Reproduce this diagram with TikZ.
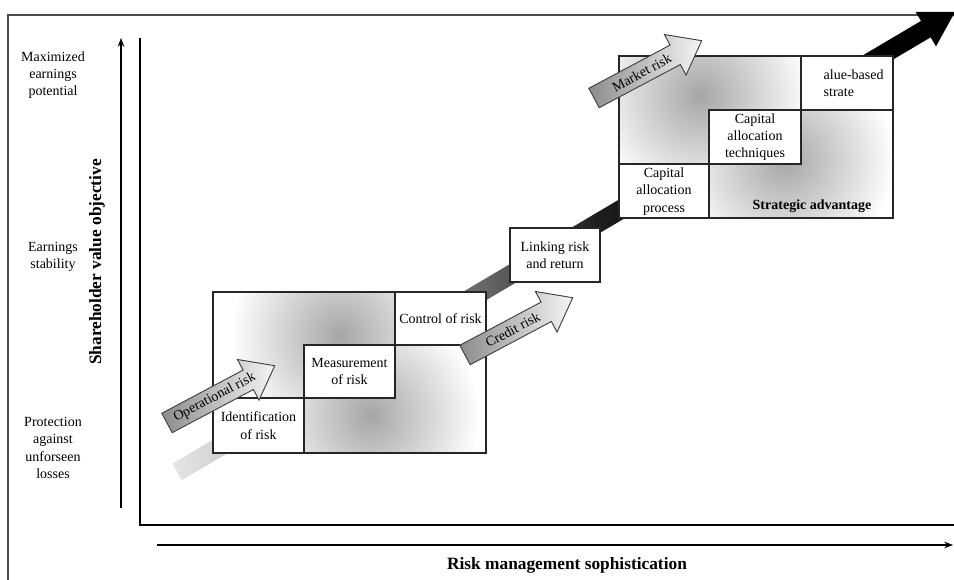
\documentclass[tikz,border=0pt]{standalone}
\usepackage{fontspec}
\setmainfont{Liberation Serif}
\usepackage{tikz}
\usetikzlibrary{arrows.meta,shadings}

\pgfdeclarehorizontalshading{bandshade}{100bp}{color(0bp)=(black!10); color(25bp)=(black!10); color(45bp)=(black!60); color(52bp)=(black!88); color(60bp)=(black); color(100bp)=(black)}

\begin{document}
\begin{tikzpicture}[x=0.75pt, y=-0.75pt, >=Stealth,
    cell/.style={draw=black!85, line width=0.8pt},
    whitecell/.style={cell, fill=white},
    celltext/.style={align=center, font=\fontsize{10.5}{13}\selectfont},
    sidetext/.style={align=center, font=\fontsize{10.5}{13}\selectfont},
    axistitle/.style={font=\fontsize{13}{15}\selectfont\bfseries},
    riskshade/.style={draw=black!75, line width=0.7pt, left color=black!45, right color=black!4},
    risktext/.style={font=\fontsize{10.5}{12}\selectfont, rotate=28}]

    \useasboundingbox (0,0) rectangle (954,580);
    \clip (0,0) rectangle (954,580);

    % Frame
    \draw[black!70, line width=1.2pt] (8,580) -- (8,15) -- (954,15);

    % Sophistication band
    \begin{scope}[shift={(177,472)}, rotate=30.6]
        \shade[shading=bandshade] (0,-9.5) -- (870,-9.5) -- (870,-20) -- (904,0) -- (870,20) -- (870,9.5) -- (0,9.5) -- cycle;
    \end{scope}

    % Lower block
    \fill[white] (213,292) rectangle (486,453);
    \begin{scope}
        \clip (213,292) -- (395,292) -- (395,345) -- (304,345) -- (304,398) -- (213,398) -- cycle;
        \shade[inner color=black!35, outer color=white] (340,335) circle (110);
    \end{scope}
    \begin{scope}
        \clip (395,345) -- (486,345) -- (486,453) -- (304,453) -- (304,398) -- (395,398) -- cycle;
        \shade[inner color=black!35, outer color=white] (370,415) circle (110);
    \end{scope}
    \draw[cell] (213,292) rectangle (486,453);
    \draw[whitecell] (213,398) rectangle (304,453);
    \draw[whitecell] (304,345) rectangle (395,398);
    \draw[whitecell] (395,292) rectangle (486,345);
    \node[celltext] (ident) at (258.5,425.5) {Identification\\of risk};
    \node[celltext] (measure) at (349.5,371.5) {Measurement\\of risk};
    \node[celltext] (control) at (440.5,318.5) {Control of risk};

    % Linking box
    \draw[whitecell] (510,228) rectangle (600,282);
    \node[celltext] (link) at (555,255) {Linking risk\\and return};

    % Upper block
    \fill[white] (619,56) rectangle (893,218);
    \begin{scope}
        \clip (619,56) -- (801,56) -- (801,110) -- (709,110) -- (709,164) -- (619,164) -- cycle;
        \shade[inner color=black!35, outer color=white] (700,95) circle (110);
    \end{scope}
    \begin{scope}
        \clip (801,110) -- (893,110) -- (893,218) -- (709,218) -- (709,164) -- (801,164) -- cycle;
        \shade[inner color=black!35, outer color=white] (785,160) circle (110);
    \end{scope}
    \draw[cell] (619,56) rectangle (893,218);
    \draw[whitecell] (619,164) rectangle (709,218);
    \draw[whitecell] (709,110) rectangle (801,164);
    \draw[whitecell] (801,56) rectangle (893,110);
    \node[celltext] (process) at (664,191.5) {Capital\\allocation\\process};
    \node[celltext] (technique) at (755,137) {Capital\\allocation\\techniques};
    \node[celltext, align=left, anchor=west] (valuebased) at (819,83) {alue-based\\strate};
    \node[celltext, font=\fontsize{10.5}{13}\selectfont\bfseries] (strategic) at (812,206) {Strategic advantage};

    % Risk arrows
    \foreach \x/\y/\lbl/\nm in {167/423/Operational risk/oprisk, 465/355/Credit risk/crrisk, 594/98/Market risk/mkrisk} {
        \begin{scope}[shift={(\x,\y)}, rotate=28]
            \shade[riskshade] (0,-11) -- (92,-11) -- (92,-23) -- (122,0) -- (92,23) -- (92,11) -- (0,11) -- cycle;
            \node[risktext] (\nm) at (54,0) {\lbl};
        \end{scope}
    }

    % Axes
    \draw[line width=0.8pt] (140,38) -- (140,525) -- (954,525);
    \draw[line width=0.8pt, ->] (121,508) -- (121,38);
    \draw[line width=0.8pt, ->] (157,545) -- (953,545);

    % Axis labels
    \node[sidetext] (maxearn) at (53,75) {Maximized\\earnings\\potential};
    \node[sidetext] (stable) at (53,257) {Earnings\\stability};
    \node[sidetext] (protect) at (53,448) {Protection\\against\\unforseen\\losses};
    \node[axistitle, rotate=90] (yname) at (97,262) {Shareholder value objective};
    \node[axistitle] (xname) at (567,565) {Risk management sophistication};

\end{tikzpicture}
\end{document}
